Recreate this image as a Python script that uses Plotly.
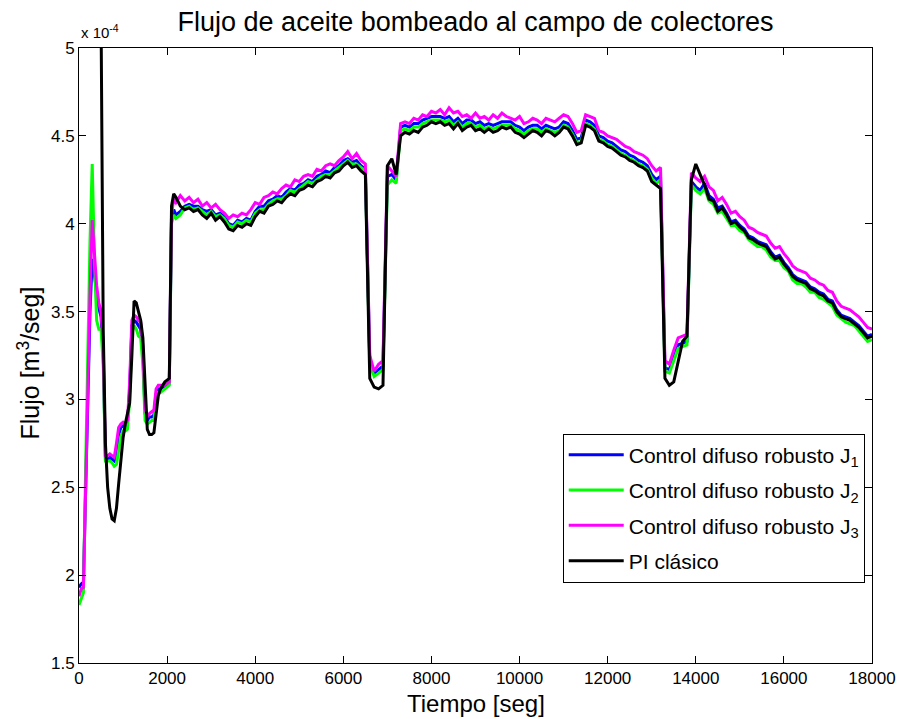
import plotly.graph_objects as go

# Sample times [s]: 50 s steps during the start-up transient, 100 s afterwards
tiempo = list(range(0, 2200, 50)) + list(range(2200, 18001, 100))

# Pumped oil flow, in units of 1e-4 m^3/s
# --- start-up (0 .. 2150 s) ---
pi_ini = [7.0, 7.0, 7.0, 7.0, 7.0, 7.0, 7.0, 7.0, 7.0, 7.0, 5.2,
          3.40, 2.75, 2.50, 2.38, 2.32, 2.31, 2.38, 2.52, 2.66, 2.78, 2.86,
          2.92, 2.98, 3.25, 3.56, 3.55, 3.49, 3.45, 3.35, 3.05, 2.83, 2.80,
          2.80, 2.81, 2.92, 3.02, 3.06, 3.08, 3.10, 3.11, 3.12, 4.10, 4.17]
j1_ini = [1.93, 1.95, 1.96, 2.50, 3.05, 3.50, 3.80, 3.70, 3.60, 3.52, 3.47,
          3.25, 2.66, 2.66, 2.67, 2.66, 2.65, 2.70, 2.80, 2.84, 2.85, 2.85,
          2.86, 3.05, 3.42, 3.45, 3.44, 3.42, 3.40, 3.25, 2.92, 2.88, 2.90,
          2.90, 2.91, 3.03, 3.06, 3.06, 3.07, 3.07, 3.08, 3.09, 4.03, 4.08]
j2_ini = [1.83, 1.87, 1.90, 2.60, 3.30, 3.90, 4.34, 3.80, 3.45, 3.40, 3.40,
          3.20, 2.65, 2.65, 2.65, 2.64, 2.62, 2.63, 2.70, 2.79, 2.82, 2.82,
          2.83, 3.00, 3.38, 3.42, 3.40, 3.36, 3.35, 3.20, 2.88, 2.86, 2.87,
          2.88, 2.88, 3.00, 3.04, 3.04, 3.05, 3.06, 3.07, 3.08, 4.00, 4.05]
j3_ini = [1.88, 1.92, 1.93, 2.50, 3.10, 3.60, 4.02, 3.85, 3.65, 3.55, 3.50,
          3.30, 2.68, 2.68, 2.69, 2.68, 2.67, 2.75, 2.84, 2.86, 2.87, 2.86,
          2.88, 3.10, 3.45, 3.48, 3.47, 3.45, 3.44, 3.30, 2.95, 2.90, 2.92,
          2.93, 2.94, 3.06, 3.08, 3.08, 3.08, 3.08, 3.09, 3.10, 4.05, 4.14]

# --- operation (2200 .. 18000 s) ---
pi_op = [4.15, 4.10, 4.08, 4.09, 4.07, 4.08, 4.05, 4.03, 4.06, 4.02,
         4.04, 4.01, 3.97, 3.96, 3.99, 3.98, 4.00, 3.99, 4.04, 4.07,
         4.06, 4.10, 4.11, 4.13, 4.12, 4.15, 4.17, 4.16, 4.19, 4.20,
         4.22, 4.21, 4.24, 4.25, 4.27, 4.26, 4.29, 4.30, 4.33, 4.35,
         4.32, 4.33, 4.30, 4.28, 3.12, 3.07, 3.06, 3.08, 4.33, 4.37,
         4.28, 4.50, 4.52, 4.51, 4.53, 4.52, 4.55, 4.56, 4.58, 4.57,
         4.58, 4.56, 4.57, 4.54, 4.57, 4.53, 4.55, 4.56, 4.53, 4.54,
         4.52, 4.54, 4.52, 4.53, 4.55, 4.54, 4.55, 4.52, 4.51, 4.49,
         4.51, 4.53, 4.52, 4.50, 4.53, 4.52, 4.50, 4.52, 4.55, 4.54,
         4.50, 4.45, 4.46, 4.56, 4.55, 4.53, 4.47, 4.46, 4.44, 4.43,
         4.41, 4.39, 4.38, 4.36, 4.35, 4.33, 4.32, 4.30, 4.24, 4.22,
         4.20, 3.12, 3.08, 3.10, 3.22, 3.33, 3.36, 4.25, 4.34, 4.28,
         4.22, 4.14, 4.13, 4.07, 4.09, 4.05, 4.00, 4.01, 3.98, 3.96,
         3.92, 3.91, 3.89, 3.88, 3.87, 3.83, 3.80, 3.81, 3.77, 3.74,
         3.70, 3.68, 3.67, 3.66, 3.63, 3.62, 3.60, 3.59, 3.56, 3.55,
         3.50, 3.47, 3.46, 3.45, 3.43, 3.41, 3.38, 3.35, 3.36]
j1_op = [4.05, 4.07, 4.10, 4.11, 4.10, 4.10, 4.08, 4.07, 4.08, 4.05,
         4.06, 4.04, 4.00, 3.99, 4.02, 4.01, 4.03, 4.02, 4.07, 4.10,
         4.10, 4.13, 4.14, 4.16, 4.15, 4.18, 4.20, 4.19, 4.22, 4.23,
         4.25, 4.24, 4.27, 4.28, 4.30, 4.29, 4.32, 4.33, 4.36, 4.37,
         4.35, 4.36, 4.33, 4.31, 3.22, 3.15, 3.17, 3.19, 4.27, 4.28,
         4.25, 4.55, 4.56, 4.55, 4.57, 4.57, 4.59, 4.60, 4.61, 4.61,
         4.61, 4.60, 4.61, 4.58, 4.60, 4.57, 4.59, 4.59, 4.57, 4.58,
         4.56, 4.57, 4.56, 4.57, 4.58, 4.58, 4.58, 4.56, 4.55, 4.53,
         4.55, 4.56, 4.56, 4.54, 4.56, 4.55, 4.54, 4.55, 4.58, 4.57,
         4.53, 4.48, 4.49, 4.59, 4.58, 4.56, 4.50, 4.49, 4.47, 4.46,
         4.44, 4.42, 4.41, 4.39, 4.38, 4.36, 4.35, 4.33, 4.28, 4.25,
         4.27, 3.18, 3.17, 3.24, 3.31, 3.32, 3.33, 4.24, 4.21, 4.19,
         4.23, 4.16, 4.14, 4.09, 4.10, 4.06, 4.01, 4.02, 3.99, 3.97,
         3.93, 3.92, 3.90, 3.89, 3.88, 3.84, 3.81, 3.82, 3.78, 3.75,
         3.71, 3.69, 3.68, 3.67, 3.64, 3.63, 3.61, 3.60, 3.57, 3.56,
         3.51, 3.48, 3.47, 3.46, 3.44, 3.42, 3.39, 3.36, 3.37]
j2_op = [4.03, 4.05, 4.09, 4.10, 4.08, 4.09, 4.07, 4.05, 4.07, 4.04,
         4.05, 4.03, 3.99, 3.98, 4.01, 4.00, 4.02, 4.01, 4.06, 4.08,
         4.08, 4.11, 4.13, 4.14, 4.14, 4.16, 4.19, 4.18, 4.20, 4.22,
         4.24, 4.23, 4.25, 4.27, 4.28, 4.28, 4.30, 4.32, 4.34, 4.36,
         4.34, 4.34, 4.32, 4.30, 3.20, 3.13, 3.15, 3.17, 4.22, 4.25,
         4.23, 4.53, 4.54, 4.53, 4.55, 4.55, 4.57, 4.58, 4.59, 4.59,
         4.59, 4.58, 4.59, 4.56, 4.58, 4.55, 4.57, 4.57, 4.55, 4.56,
         4.54, 4.55, 4.54, 4.55, 4.56, 4.56, 4.56, 4.54, 4.53, 4.51,
         4.53, 4.54, 4.54, 4.52, 4.54, 4.53, 4.52, 4.53, 4.56, 4.55,
         4.51, 4.46, 4.47, 4.57, 4.56, 4.54, 4.48, 4.47, 4.45, 4.44,
         4.42, 4.40, 4.39, 4.37, 4.36, 4.34, 4.33, 4.31, 4.26, 4.23,
         4.25, 3.16, 3.15, 3.22, 3.29, 3.30, 3.31, 4.22, 4.19, 4.17,
         4.20, 4.13, 4.11, 4.06, 4.07, 4.03, 3.99, 3.99, 3.96, 3.95,
         3.91, 3.89, 3.87, 3.87, 3.85, 3.81, 3.79, 3.79, 3.75, 3.73,
         3.68, 3.66, 3.66, 3.64, 3.61, 3.61, 3.58, 3.57, 3.55, 3.53,
         3.48, 3.46, 3.44, 3.43, 3.42, 3.39, 3.36, 3.33, 3.34]
j3_op = [4.12, 4.16, 4.13, 4.15, 4.12, 4.14, 4.10, 4.12, 4.09, 4.11,
         4.08, 4.06, 4.03, 4.05, 4.04, 4.06, 4.05, 4.08, 4.12, 4.11,
         4.15, 4.16, 4.18, 4.17, 4.20, 4.22, 4.21, 4.25, 4.24, 4.27,
         4.28, 4.27, 4.31, 4.30, 4.33, 4.34, 4.33, 4.36, 4.38, 4.41,
         4.37, 4.40, 4.36, 4.34, 3.25, 3.16, 3.20, 3.22, 4.33, 4.30,
         4.27, 4.57, 4.58, 4.57, 4.60, 4.59, 4.62, 4.61, 4.64, 4.63,
         4.65, 4.62, 4.66, 4.63, 4.64, 4.61, 4.62, 4.60, 4.63, 4.60,
         4.61, 4.59, 4.62, 4.60, 4.63, 4.61, 4.60, 4.59, 4.61, 4.57,
         4.58, 4.60, 4.59, 4.57, 4.60, 4.59, 4.58, 4.60, 4.62, 4.61,
         4.57, 4.52, 4.53, 4.62, 4.61, 4.60, 4.53, 4.52, 4.50, 4.49,
         4.48, 4.46, 4.44, 4.43, 4.41, 4.40, 4.39, 4.37, 4.33, 4.30,
         4.32, 3.22, 3.20, 3.28, 3.35, 3.36, 3.37, 4.29, 4.26, 4.24,
         4.27, 4.21, 4.19, 4.13, 4.15, 4.11, 4.06, 4.07, 4.04, 4.02,
         3.98, 3.97, 3.95, 3.94, 3.93, 3.89, 3.86, 3.87, 3.83, 3.80,
         3.76, 3.74, 3.73, 3.72, 3.69, 3.68, 3.66, 3.65, 3.62, 3.61,
         3.56, 3.53, 3.52, 3.51, 3.49, 3.47, 3.44, 3.41, 3.40]

flujo_j1 = j1_ini + j1_op
flujo_j2 = j2_ini + j2_op
flujo_j3 = j3_ini + j3_op
flujo_pi = pi_ini + pi_op

series = [
    ("Control difuso robusto J<sub>1</sub>", flujo_j1, "#0000ff"),
    ("Control difuso robusto J<sub>2</sub>", flujo_j2, "#00ff00"),
    ("Control difuso robusto J<sub>3</sub>", flujo_j3, "#ff00ff"),
    ("PI clásico", flujo_pi, "#000000"),
]

x_ticks = [0, 2000, 4000, 6000, 8000, 10000, 12000, 14000, 16000, 18000]
y_ticks = [1.5, 2, 2.5, 3, 3.5, 4, 4.5, 5]

FONT = "Liberation Sans, Arial, sans-serif"

fig = go.Figure()
for i, (name, vals, color) in enumerate(series):
    fig.add_trace(go.Scatter(x=tiempo, y=vals, mode="lines", name=name,
                             legendgroup=f"g{i}",
                             line=dict(color=color, width=3)))

axis_common = dict(showline=True, linecolor="black", linewidth=1, mirror="ticks",
                   ticks="inside", ticklen=7, tickcolor="black", tickwidth=1,
                   showgrid=False, zeroline=False, automargin=False,
                   tickfont=dict(family=FONT, size=17, color="black"))

fig.update_layout(
    width=905, height=719,
    margin=dict(l=79, r=33, t=48, b=56),
    paper_bgcolor="white", plot_bgcolor="white",
    font=dict(family=FONT, color="black"),
    title=dict(text="Flujo de aceite bombeado al campo de colectores",
               x=0.5, xref="paper", xanchor="center",
               y=1 - 22 / 719, yref="container", yanchor="middle",
               font=dict(family=FONT, size=27, color="black")),
    xaxis=dict(range=[0, 18000], tickmode="array", tickvals=x_ticks,
               ticktext=[str(v) for v in x_ticks], **axis_common),
    yaxis=dict(range=[1.5, 5], tickmode="array", tickvals=y_ticks,
               ticktext=[f"{v:g}" for v in y_ticks], **axis_common),
    legend=dict(x=0.61, y=0.373, xanchor="left", yanchor="top",
                bgcolor="white", bordercolor="black", borderwidth=1,
                font=dict(family=FONT, size=21, color="black"),
                itemwidth=55, tracegroupgap=5),
    annotations=[
        dict(text="x 10<sup>-4</sup>", xref="paper", yref="paper",
             x=0, y=1, xanchor="left", yanchor="bottom", showarrow=False,
             yshift=5, font=dict(family=FONT, size=15, color="black")),
        # axis titles
        dict(text="Tiempo [seg]", xref="paper", yref="paper",
             x=0.5, y=0, xanchor="center", yanchor="middle", yshift=-40,
             showarrow=False, font=dict(family=FONT, size=24, color="black")),
        dict(text="Flujo [m<sup>3</sup>/seg]", xref="paper", yref="paper",
             x=0, y=0.5, xanchor="center", yanchor="middle", xshift=-51,
             yshift=-8, textangle=-90,
             showarrow=False, font=dict(family=FONT, size=25, color="black")),
    ],
)

fig.write_html("out.html")
